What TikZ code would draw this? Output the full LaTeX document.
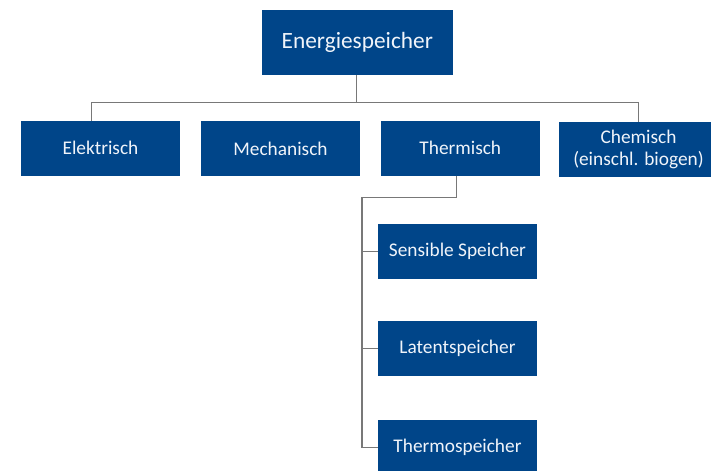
\documentclass[tikz,border=0pt]{standalone}
\usepackage{fontspec}
\setmainfont{Carlito}
\definecolor{boxblue}{RGB}{0,69,137}
\definecolor{txtwhite}{RGB}{240,244,250}
\definecolor{linegray}{RGB}{120,120,120}
\begin{document}
\begin{tikzpicture}[x=0.75pt,y=-0.75pt,
  blk/.style={rectangle, fill=boxblue, text=txtwhite, inner sep=0pt,
    minimum width=119.25pt, minimum height=41pt, align=center,
    font=\fontsize{14.5}{16.5}\selectfont},
  conn/.style={draw=linegray, line width=1.1pt}]
\useasboundingbox (0,0) rectangle (711,471);
\node[blk, minimum width=143pt, minimum height=48.5pt, font=\fontsize{17.5}{20}\selectfont] (top) at (357.3,42.3) {Energiespeicher};
\node[blk] (elek) at (100.5,148.3) {Elektrisch};
\node[blk] (mech) at (280.5,148.5) {Mechanisch};
\node[blk] (therm) at (460.3,148.3) {Thermisch};
\node[blk] (chem) at (638.5,149.3) {Chemisch\\(einschl. biogen)};
\node[blk] (sens) at (457.5,251.3) {Sensible Speicher};
\node[blk] (lat) at (457.5,348.5) {Latentspeicher};
\node[blk] (thsp) at (457.5,447.5) {Thermospeicher};
\coordinate (bus) at (356.7,102.7);
\coordinate (busL) at (91.3,102.7);
\coordinate (busR) at (638.7,102.7);
\coordinate (tdrop) at (456.7,197.7);
\coordinate (trunk) at (362,197.7);
\draw[conn] (top.south -| bus) -- (bus);
\draw[conn] (busL |- elek.north) -- (busL) -- (busR) -- (busR |- chem.north);
\draw[conn] (therm.south -| tdrop) -- (tdrop) -- (trunk) -- (trunk |- thsp.west) -- (thsp.west);
\draw[conn] (trunk |- sens.west) -- (sens.west);
\draw[conn] (trunk |- lat.west) -- (lat.west);
\end{tikzpicture}
\end{document}
